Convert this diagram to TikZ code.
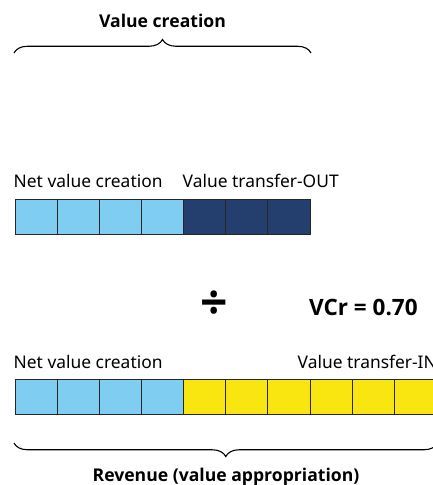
\documentclass[tikz,border=0pt]{standalone}
\usepackage{fontspec}
\setmainfont{Noto Sans}
\newfontfamily\headfont{Open Sans}
\usetikzlibrary{decorations.pathreplacing}
\definecolor{netblue}{HTML}{7FCEF1}
\definecolor{outnavy}{HTML}{243F6E}
\definecolor{inyellow}{HTML}{F9E50F}
\tikzset{
  cell/.style={draw=black!85, line width=1pt, minimum width=42.15pt, minimum height=35pt, inner sep=0pt, outer sep=0pt, anchor=north west},
  lbl/.style={inner sep=0pt, anchor=base west, font=\fontsize{17.4}{20}\selectfont},
  head/.style={inner sep=0pt, anchor=base, font=\headfont\bfseries\fontsize{17.6}{20}\selectfont},
  curly/.style={draw, line width=1.1pt, decorate, decoration={brace, amplitude=13.5pt}}
}
\begin{document}
\begin{tikzpicture}[x=1pt, y=-1pt]
\useasboundingbox (0,0) rectangle (433,485);
\clip (0,0) rectangle (433,485);

% top bar: net value creation + value transfer-OUT
\foreach \i in {0,...,3}
  \node[cell, fill=netblue] (t\i) at ({15+42.15*\i},199) {};
\foreach \i in {4,...,6}
  \node[cell, fill=outnavy] (t\i) at ({15+42.15*\i},199) {};

% bottom bar: net value creation + value transfer-IN
\foreach \i in {0,...,3}
  \node[cell, fill=netblue] (b\i) at ({15+42.15*\i},379) {};
\foreach \i in {4,...,9}
  \node[cell, fill=inyellow] (b\i) at ({15+42.15*\i},379) {};

% labels above the bars
\node[lbl] (tnet) at (13.5,187) {Net value creation};
\node[lbl] (tout) at (182.5,187) {Value transfer-OUT};
\node[lbl] (bnet) at (13.5,368) {Net value creation};
\node[lbl] (bin) at (297.5,368) {Value transfer-IN};

% braces and their captions
\coordinate (vcl) at (14,53);
\coordinate (vcr) at (311,53);
\draw[curly] (vcl) -- (vcr);
\node[head] (vc) at (162.5,27) {Value creation};

\coordinate (rvr) at (437.5,443);
\coordinate (rvl) at (14,443);
\draw[curly] (rvr) -- (rvl);
\node[head] (rev) at (226,481) {Revenue (value appropriation)};

% ratio
\node[inner sep=0pt, font=\headfont\bfseries\fontsize{48}{50}\selectfont] (div) at (214.5,305.5) {÷};
\node[inner sep=0pt, anchor=base west, font=\headfont\bfseries\fontsize{22.5}{26}\selectfont] (vcratio) at (309,315) {VCr = 0.70};
\end{tikzpicture}
\end{document}
